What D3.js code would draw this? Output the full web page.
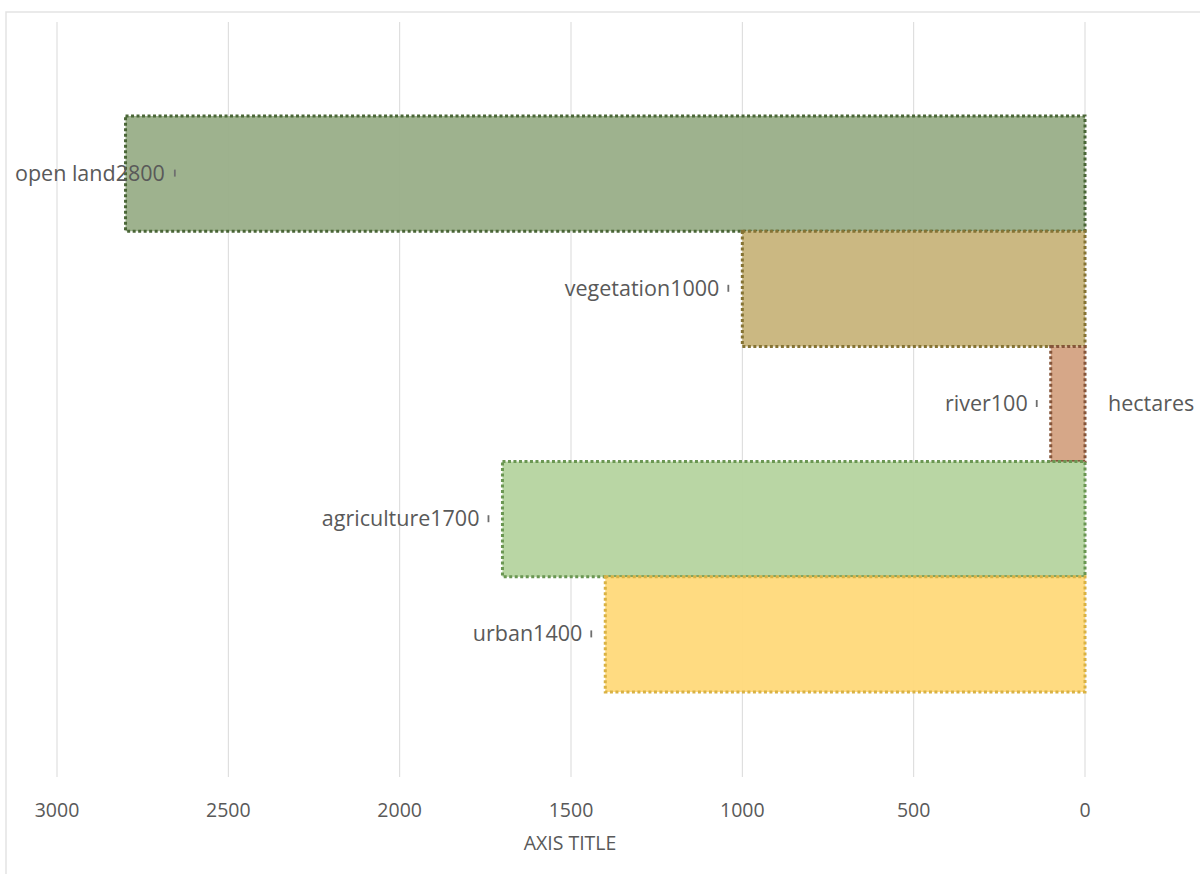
<!DOCTYPE html>
<html lang="en">
<head>
  <meta charset="UTF-8">
  <title>hectares</title>
  <script src="https://d3js.org/d3.v7.min.js"></script>
  <style>
    body {
      margin: 0;
      background: #fff;
      font-family: "Open Sans", Lato, sans-serif;
    }
    .grid line {
      stroke: #d9d9d9;
      stroke-width: 1;
    }
    .tick-label {
      fill: #595959;
      font-size: 19.5px;
    }
    .data-label {
      fill: #595959;
      font-size: 21.5px;
    }
  </style>
</head>
<body>
  <div id="chart"></div>
  <script>
    const categories = ["open land", "vegetation", "river", "agriculture", "urban"];
    const hectares = [2800, 1000, 100, 1700, 1400];
    const tickValues = [3000, 2500, 2000, 1500, 1000, 500, 0];
    const fills = ["#9AAF89", "#C9B57D", "#D4A383", "#B6D4A0", "#FFDA7C"];
    const borders = ["#4A6637", "#857334", "#85553A", "#6A9652", "#D9B244"];

    const width = 1200, height = 874;

    const svg = d3.select("#chart")
                  .append("svg")
                  .attr("width", width)
                  .attr("height", height);

    // chart frame
    svg.append("rect")
       .attr("x", 6).attr("y", 12)
       .attr("width", 1200).attr("height", 900)
       .attr("fill", "none")
       .attr("stroke", "#e3e3e3")
       .attr("stroke-width", 1.5);

    // reversed value axis: 0 on the right
    const x = d3.scaleLinear()
                .domain([0, 3000])
                .range([1085, 57]);

    const y = d3.scaleBand()
                .domain(categories)
                .range([116, 692])
                .padding(0);

    const gridTop = 22, gridBottom = 777;

    svg.append("g")
       .attr("class", "grid")
       .selectAll("line")
       .data(tickValues)
       .enter()
       .append("line")
       .attr("x1", d => x(d)).attr("x2", d => x(d))
       .attr("y1", gridTop).attr("y2", gridBottom);

    svg.append("g")
       .selectAll("text")
       .data(tickValues)
       .enter()
       .append("text")
       .attr("class", "tick-label")
       .attr("x", d => x(d))
       .attr("y", 817)
       .attr("text-anchor", "middle")
       .text(d => d);

    svg.append("text")
       .attr("class", "tick-label")
       .attr("x", 570)
       .attr("y", 850)
       .attr("text-anchor", "middle")
       .text("AXIS TITLE");

    const rows = categories.map((c, i) => ({ cat: c, v: hectares[i], fill: fills[i], stroke: borders[i] }));

    svg.append("g")
       .selectAll("rect")
       .data(rows)
       .enter()
       .append("rect")
       .attr("x", d => x(d.v))
       .attr("y", d => y(d.cat))
       .attr("width", d => x(0) - x(d.v))
       .attr("height", y.bandwidth())
       .attr("fill", d => d.fill)
       .attr("fill-opacity", 0.96)
       .attr("stroke", d => d.stroke)
       .attr("stroke-width", 3)
       .attr("stroke-dasharray", "3,2.5");

    // data labels with small leader marks
    const labels = svg.append("g");
    rows.forEach(d => {
      const cy = y(d.cat) + y.bandwidth() / 2;
      const t = labels.append("text")
                      .attr("class", "data-label")
                      .attr("x", x(d.v) - 23)
                      .attr("y", cy + 7)
                      .attr("text-anchor", "end")
                      .text(d.cat + d.v);
      let markX = x(d.v) - 14;
      const w = t.node().getComputedTextLength();
      if (x(d.v) - 23 - w < 15) {
        t.attr("x", 15).attr("text-anchor", "start");
        markX = 15 + w + 10;
      }
      labels.append("line")
            .attr("x1", markX).attr("x2", markX)
            .attr("y1", cy - 4).attr("y2", cy + 3)
            .attr("stroke", "#6f6f6f")
            .attr("stroke-width", 1.8);
    });

    svg.append("text")
       .attr("class", "data-label")
       .attr("x", 1108)
       .attr("y", y("river") + y.bandwidth() / 2 + 7)
       .text("hectares");
  </script>
</body>
</html>
